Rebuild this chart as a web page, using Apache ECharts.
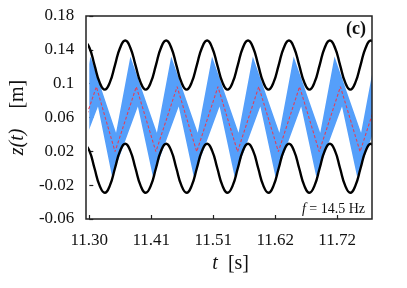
<!DOCTYPE html>
<html><head><meta charset="utf-8">
<script src="https://cdn.jsdelivr.net/npm/echarts@6/dist/echarts.min.js"></script>
<style>html,body{margin:0;padding:0;background:#fff}#c{width:407px;height:288px}</style>
</head><body><div id="c"></div>
<script>
// time offsets are seconds after T0 = 11.30 s ; values in metres
var T0 = 11.30;
var Y0 = -0.06; // axis minimum
var xTickLabels = ['11.30', '11.41', '11.51', '11.62', '11.72'];
var yTickLabels = ['-0.06', '-0.02', '0.02', '0.06', '0.1', '0.14', '0.18'];

// black boundary curves (sampled at eighth periods)
var blackT = [-0.0085,0.0002,0.0088,0.0175,0.0262,0.0348,0.0435,0.0522,
  0.0609,0.0695,0.0782,0.0869,0.0955,0.1042,0.1129,0.1215,
  0.1302,0.1389,0.1475,0.1562,0.1649,0.1735,0.1822,0.1909,
  0.1996,0.2082,0.2169,0.2256,0.2342,0.2429,0.2516,0.2602,
  0.2689,0.2776,0.2862,0.2949,0.3036,0.3122,0.3209,0.3296,
  0.3383,0.3469,0.3556,0.3643,0.3729,0.3816,0.3903,0.3989,
  0.4076,0.4163,0.4249,0.4336,0.4423,0.4509,0.4596,0.4683,
  0.4770,0.4856];
var upperWall = [0.151,0.1425,0.122,0.1015,0.093,0.1015,0.122,0.1425,
  0.151,0.1425,0.122,0.1015,0.093,0.1015,0.122,0.1425,
  0.151,0.1425,0.122,0.1015,0.093,0.1015,0.122,0.1425,
  0.151,0.1425,0.122,0.1015,0.093,0.1015,0.122,0.1425,
  0.151,0.1425,0.122,0.1015,0.093,0.1015,0.122,0.1425,
  0.151,0.1425,0.122,0.1015,0.093,0.1015,0.122,0.1425,
  0.151,0.1425,0.122,0.1015,0.093,0.1015,0.122,0.1425,
  0.151,0.1425];
var lowerWall = [0.029,0.0205,0,-0.0205,-0.029,-0.0205,0,0.0205,
  0.029,0.0205,0,-0.0205,-0.029,-0.0205,0,0.0205,
  0.029,0.0205,0,-0.0205,-0.029,-0.0205,0,0.0205,
  0.029,0.0205,0,-0.0205,-0.029,-0.0205,0,0.0205,
  0.029,0.0205,0,-0.0205,-0.029,-0.0205,0,0.0205,
  0.029,0.0205,0,-0.0205,-0.029,-0.0205,0,0.0205,
  0.029,0.0205,0,-0.0205,-0.029,-0.0205,0,0.0205,
  0.029,0.0205];

// red dashed centre zigzag
var redT = [-0.0256,0.012,0.0436,0.0796,0.1128,0.1488,0.1820,0.2180,
  0.2512,0.2871,0.3204,0.3563,0.3896,0.4255,0.4588,0.4947];
var redV = [0.0196,0.0964,0.0196,0.0964,0.0196,0.0964,0.0196,0.0964,
  0.0196,0.0964,0.0196,0.0964,0.0196,0.0964,0.0196,0.0964];

// blue band edges
var bandUpT = [-0.0239,0.002,0.0453,0.0696,0.1145,0.1388,0.1837,0.2080,
  0.2529,0.2771,0.3221,0.3463,0.3913,0.4155,0.4605,0.4847];
var bandUpV = [0.042,0.132,0.042,0.132,0.042,0.132,0.042,0.132,
  0.042,0.132,0.042,0.132,0.042,0.132,0.042,0.132];
var bandLoT = [-0.0306,0.0147,0.0386,0.0823,0.1078,0.1515,0.1770,0.2207,
  0.2462,0.2898,0.3154,0.3590,0.3846,0.4282,0.4538,0.4974];
var bandLoV = [-0.010,0.073,-0.010,0.073,-0.010,0.073,-0.010,0.073,
  -0.010,0.073,-0.010,0.073,-0.010,0.073,-0.010,0.073];

var XINT = 0.105, YINT = 0.04;
function pairs(ts, vs) { return ts.map(function (t, i) { return [t, vs[i] - Y0]; }); }

var GL = 86, GR = 35, GT = 16, GB = 69, W = 407, H = 288;
var chart = echarts.init(document.getElementById('c'), null, {renderer: 'canvas'});
var serif = 'Liberation Serif, Times New Roman, serif';
chart.setOption({
  animation: false,
  grid: {left: GL, right: GR, top: GT, bottom: GB, show: false},
  xAxis: {
    type: 'value', min: 0, max: 0.479, interval: XINT,
    axisLine: {show: false},
    splitLine: {show: false},
    axisTick: {show: true, inside: true, length: 4, lineStyle: {color: '#222', width: 1.2}},
    axisLabel: {margin: 13, color: '#111', fontFamily: serif, fontSize: 17,
      formatter: function (v) { var i = Math.round(v / XINT); return xTickLabels[i] || ''; },
      showMaxLabel: false},
    name: '{i|t}  [s]', nameLocation: 'middle', nameGap: 27,
    nameTextStyle: {color: '#111', fontFamily: serif, fontSize: 20,
      rich: {i: {fontStyle: 'italic', fontFamily: serif, fontSize: 20, color: '#111'}}}
  },
  yAxis: {
    type: 'value', min: 0, max: 0.24, interval: YINT,
    axisLine: {show: false},
    splitLine: {show: false},
    axisTick: {show: true, inside: true, length: 4, lineStyle: {color: '#222', width: 1.2}},
    axisLabel: {margin: 15, color: '#111', fontFamily: serif, fontSize: 17,
      formatter: function (v) { var i = Math.round(v / YINT); return yTickLabels[i] || ''; }},
    name: '{i|z(t)}    [m]', nameLocation: 'middle', nameGap: 47,
    nameTextStyle: {color: '#111', fontFamily: serif, fontSize: 20,
      rich: {i: {fontStyle: 'italic', fontFamily: serif, fontSize: 20, color: '#111'}}}
  },
  graphic: [
    {type: 'rect', z: 50, silent: true, shape: {x: GL - 8, y: GT - 6, width: 8, height: H - GT - GB + 12}, style: {fill: '#fff'}},
    {type: 'rect', z: 50, silent: true, shape: {x: W - GR, y: GT - 6, width: 10, height: H - GT - GB + 12}, style: {fill: '#fff'}},
    {type: 'rect', z: 60, silent: true, shape: {x: GL, y: GT, width: W - GL - GR, height: H - GT - GB},
      style: {fill: null, stroke: '#222', lineWidth: 1.5}},
    {type: 'text', z: 60, right: 41, top: 20, style: {text: '(c)', font: 'bold 18px ' + serif, fill: '#111'}},
    {type: 'text', z: 60, right: 42, top: 202, style: {text: '{i|f} = 14.5 Hz', font: '14px ' + serif, fill: '#111',
      rich: {i: {fontStyle: 'italic', fontSize: 14, fontFamily: serif, fill: '#111'}}}}
  ],
  series: [
    {
      type: 'custom', z: 1, clip: true,
      data: [[0, 0]],
      renderItem: function (params, api) {
        var pts = [], i;
        for (i = 0; i < bandUpT.length; i++) pts.push(api.coord([bandUpT[i], bandUpV[i] - Y0]));
        for (i = bandLoT.length - 1; i >= 0; i--) pts.push(api.coord([bandLoT[i], bandLoV[i] - Y0]));
        var cs = params.coordSys;
        return {
          type: 'group',
          clipPath: {type: 'rect', shape: {x: cs.x, y: cs.y, width: cs.width, height: cs.height}},
          children: [{type: 'polygon', shape: {points: pts}, style: {fill: '#559ffa', stroke: null}}]
        };
      }
    },
    {
      type: 'line', z: 3, data: pairs(redT, redV), showSymbol: false, symbol: 'none',
      lineStyle: {color: '#e0405a', width: 1.1, type: [3, 2]}
    },
    {
      type: 'line', z: 4, data: pairs(blackT, upperWall), showSymbol: false, symbol: 'none', smooth: true,
      lineStyle: {color: '#000', width: 2.4}
    },
    {
      type: 'line', z: 4, data: pairs(blackT, lowerWall), showSymbol: false, symbol: 'none', smooth: true,
      lineStyle: {color: '#000', width: 2.4}
    }
  ]
});
</script></body></html>
